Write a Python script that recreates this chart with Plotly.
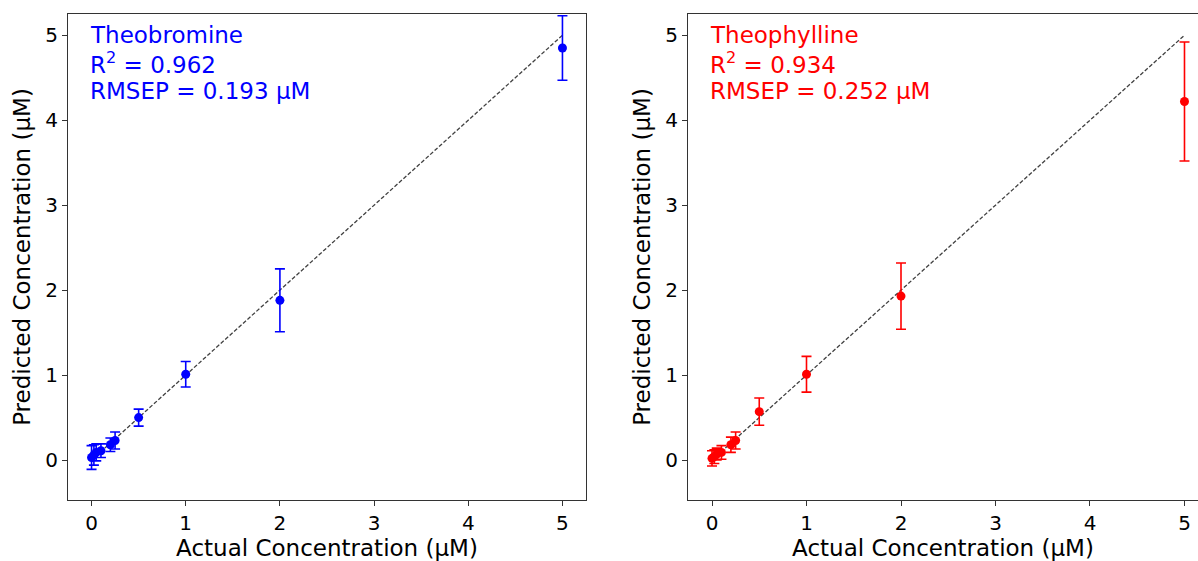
import plotly.graph_objects as go

# Actual concentrations (µM)
actual = [0, 0.025, 0.05, 0.1, 0.2, 0.25, 0.5, 1, 2, 5]

# Theobromine predictions and error bars
theobromine_pred = [0.03, 0.06, 0.09, 0.11, 0.18, 0.23, 0.50, 1.01, 1.88, 4.85]
theobromine_err = [0.14, 0.12, 0.10, 0.08, 0.08, 0.10, 0.10, 0.15, 0.37, 0.38]

# Theophylline predictions and error bars
theophylline_pred = [0.02, 0.04, 0.07, 0.09, 0.18, 0.23, 0.57, 1.01, 1.93, 4.22]
theophylline_err = [0.09, 0.08, 0.07, 0.08, 0.09, 0.10, 0.16, 0.21, 0.39, 0.70]

ideal = [0, 5]
ticks = [0, 1, 2, 3, 4, 5]

panels = [
    ("Theobromine", "0.962", "0.193", "blue", theobromine_pred, theobromine_err),
    ("Theophylline", "0.934", "0.252", "red", theophylline_pred, theophylline_err),
]

FONT = "DejaVu Sans"
W, H = 1198, 561

fig = go.Figure()
annotations = []

for i, (name, r2, rmsep, color, pred, err) in enumerate(panels):
    xa = "x" if i == 0 else "x2"
    ya = "y" if i == 0 else "y2"

    fig.add_trace(go.Scatter(
        x=ideal, y=ideal, mode="lines",
        line=dict(color="rgba(0,0,0,0.75)", width=1.3, dash="4px,2px"),
        xaxis=xa, yaxis=ya, hoverinfo="skip", showlegend=False,
    ))
    fig.add_trace(go.Scatter(
        x=actual, y=pred, mode="markers",
        marker=dict(color=color, size=9),
        error_y=dict(type="data", array=err, color=color, thickness=1.6, width=5),
        xaxis=xa, yaxis=ya, name=name, showlegend=False,
    ))

    lines = [name, f"R<sup>2</sup> = {r2}", f"RMSEP = {rmsep} µM"]
    for j, txt in enumerate(lines):
        annotations.append(dict(
            text=txt, xref=xa, yref=ya, x=-0.04, y=5 - j * 0.33,
            xanchor="left", yanchor="middle", showarrow=False,
            font=dict(family=FONT, size=23, color=color),
        ))

axis_common = dict(
    showline=True, linecolor="#333", linewidth=1,
    ticks="outside", ticklen=5, tickcolor="#333",
    tickvals=ticks, showgrid=False, zeroline=False,
    tickfont=dict(family=FONT, size=20, color="black"),
)
title_font = dict(family=FONT, size=23, color="black")

fig.update_layout(
    width=W, height=H,
    margin=dict(l=0, r=0, t=14, b=61),
    paper_bgcolor="white", plot_bgcolor="white",
    annotations=annotations,
    xaxis=dict(axis_common, domain=[68 / W, 586 / W], range=[-0.25, 5.25], mirror=True,
               anchor="y",
               title=dict(text="Actual Concentration (µM)", standoff=2, font=title_font)),
    yaxis=dict(axis_common, domain=[0, 1], range=[-0.47, 5.25], mirror=True,
               anchor="x",
               title=dict(text="Predicted Concentration (µM)", standoff=8, font=title_font)),
    xaxis2=dict(axis_common, domain=[688 / W, 1.0], range=[-0.254, 5.143], mirror=True,
                anchor="y2",
                title=dict(text="Actual Concentration (µM)", standoff=2, font=title_font)),
    yaxis2=dict(axis_common, domain=[0, 1], range=[-0.47, 5.25],
                anchor="x2",
                title=dict(text="Predicted Concentration (µM)", standoff=8, font=title_font)),
)

fig.write_html(
    "out.html",
    config={"displayModeBar": False},
    post_script="document.body.style.margin='0';document.body.style.overflow='hidden';",
)
